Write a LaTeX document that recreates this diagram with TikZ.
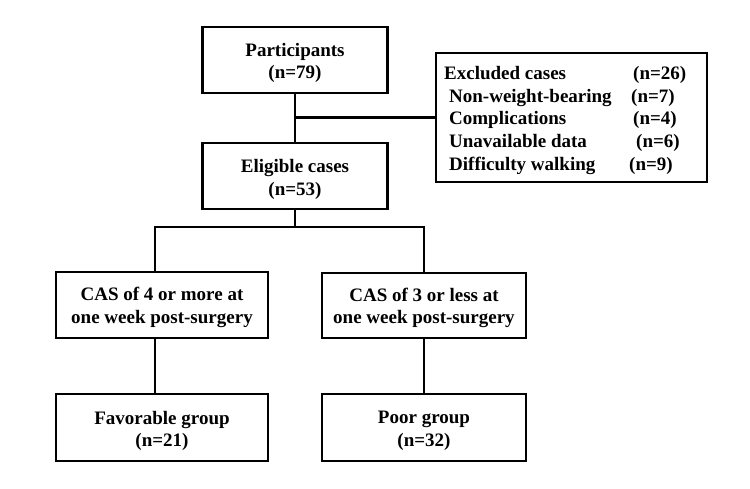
\documentclass[tikz,border=0pt]{standalone}
\usepackage{fontspec}
\setmainfont{Liberation Serif}
\begin{document}
\begin{tikzpicture}[x=1pt,y=-1pt,
  every node/.style={font=\fontsize{19}{22.5}\selectfont\bfseries},
  box/.style={draw, line width=2.7pt, inner sep=0pt},
  txt/.style={inner sep=0pt, align=center},
  lbl/.style={anchor=base west, inner sep=0pt},
  conn/.style={line width=2.9pt}]
\useasboundingbox (0,0) rectangle (750,488);
\fill[white] (0,0) rectangle (750,488);
\node[box, minimum width=185pt, minimum height=66pt] (part) at (295,60) {};
\node[txt] (partt) at (295,63) {Participants\\(n=79)};
\node[box, minimum width=185pt, minimum height=66pt] (elig) at (295,176) {};
\node[txt] (eligt) at (295,179.5) {Eligible cases\\(n=53)};
\node[box, minimum width=271pt, minimum height=129pt] (excl) at (571.5,117.5) {};
\node[box, minimum width=212pt, minimum height=66pt] (casA) at (162,305) {};
\node[txt] (casAt) at (162,307.5) {CAS of 4 or more at\\one week post-surgery};
\node[box, minimum width=204pt, minimum height=65pt] (casB) at (424,305.5) {};
\node[txt] (casBt) at (424,308) {CAS of 3 or less at\\one week post-surgery};
\node[box, minimum width=212pt, minimum height=67pt] (fav) at (162,427.5) {};
\node[txt] (favt) at (162,431) {Favorable group\\(n=21)};
\node[box, minimum width=204pt, minimum height=67pt] (poor) at (424,427.5) {};
\node[txt] (poort) at (424,431) {Poor group\\(n=32)};
% excluded texts
\node[lbl] (e1) at (444,79) {Excluded cases};
\node[lbl] (e1n) at (633,79) {(n=26)};
\node[lbl] (e2) at (449,102) {Non-weight-bearing};
\node[lbl] (e2n) at (631,102) {(n=7)};
\node[lbl] (e3) at (449,124) {Complications};
\node[lbl] (e3n) at (633,124) {(n=4)};
\node[lbl] (e4) at (449,147) {Unavailable data};
\node[lbl] (e4n) at (636,147) {(n=6)};
\node[lbl] (e5) at (449,170) {Difficulty walking};
\node[lbl] (e5n) at (629,170) {(n=9)};
% connectors
\coordinate (jt) at (295,227);
\coordinate (la) at (155,227);
\coordinate (ra) at (424,227);
\coordinate (lat) at (155,272);
\coordinate (lab) at (155,338);
\coordinate (lfa) at (155,394);
\draw[conn] (part.south) -- (elig.north);
\draw[conn] (excl.west) -- (excl.west -| part.south);
\draw[conn] (elig.south) -- (jt);
\draw[conn] (lat) -- (la) -- (ra) -- (casB.north);
\draw[conn] (lab) -- (lfa);
\draw[conn] (casB.south) -- (poor.north);
\end{tikzpicture}
\end{document}
